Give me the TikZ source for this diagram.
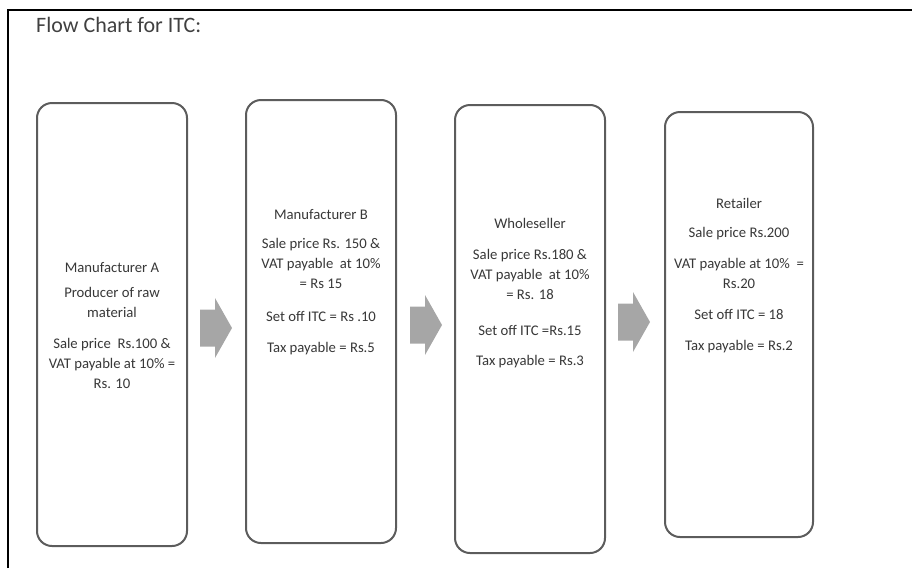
\documentclass[tikz,border=0pt]{standalone}
\usepackage{fontspec}
\setmainfont{Carlito}
\definecolor{txtgray}{HTML}{383838}
\definecolor{titlegray}{HTML}{404040}
\definecolor{boxgray}{HTML}{5C5C5C}
\definecolor{arrgray}{HTML}{A6A6A6}
\begin{document}
\begin{tikzpicture}[x=1pt,y=-1pt,
  stagebox/.style={draw=boxgray, line width=2pt, rounded corners=15pt, fill=white, inner sep=0pt},
  stagetext/.style={text=txtgray, align=center, inner sep=0pt, anchor=north, font={\fontsize{14.7}{20}\selectfont}},
  titletext/.style={text=titlegray, inner sep=0pt, anchor=west, font={\fontsize{22}{26}\selectfont}},
  blockarr/.pic={\fill[arrgray] (0,-18.5) -- (15,-18.5) -- (15,-30) -- (32,0) -- (15,30) -- (15,18.5) -- (0,18.5) -- cycle;}
]
\useasboundingbox (0,0) rectangle (912,568);
\draw[line width=1.5pt, black] (8,568) -- (8,10) -- (912,10);

\node[titletext] (title) at (36,25) {Flow Chart for ITC:};

\node[stagebox, minimum width=150pt, minimum height=443pt] (b1) at (112,324.5) {};
\node[stagebox, minimum width=150pt, minimum height=443pt] (b2) at (321,321.5) {};
\node[stagebox, minimum width=150pt, minimum height=448pt] (b3) at (530,329) {};
\node[stagebox, minimum width=148pt, minimum height=425pt] (b4) at (739,324.5) {};

\node[stagetext] (t1) at (112,262.5) {Manufacturer A\\[5pt]Producer of raw\\material\\[11pt]Sale price~ Rs.100 \&\\VAT payable at 10\% =\\Rs. 10};
\node[stagetext] (t2) at (321,209.5) {Manufacturer B\\[9pt]Sale price Rs. 150 \&\\VAT payable~ at 10\%\\= Rs 15\\[13pt]Set off ITC = Rs .10\\[11pt]Tax payable = Rs.5};
\node[stagetext] (t3) at (530,218.5) {Wholeseller\\[11pt]Sale price Rs.180 \&\\VAT payable~ at 10\%\\= Rs. 18\\[16pt]Set off ITC =Rs.15\\[10pt]Tax payable = Rs.3};
\node[stagetext] (t4) at (739,198.5) {Retailer\\[9pt]Sale price Rs.200\\[11pt]VAT payable at 10\%~ =\\Rs.20\\[11pt]Set off ITC = 18\\[11pt]Tax payable = Rs.2};

\pic at (200,328) {blockarr};
\pic at (410,325) {blockarr};
\pic at (618,322) {blockarr};
\end{tikzpicture}
\end{document}
